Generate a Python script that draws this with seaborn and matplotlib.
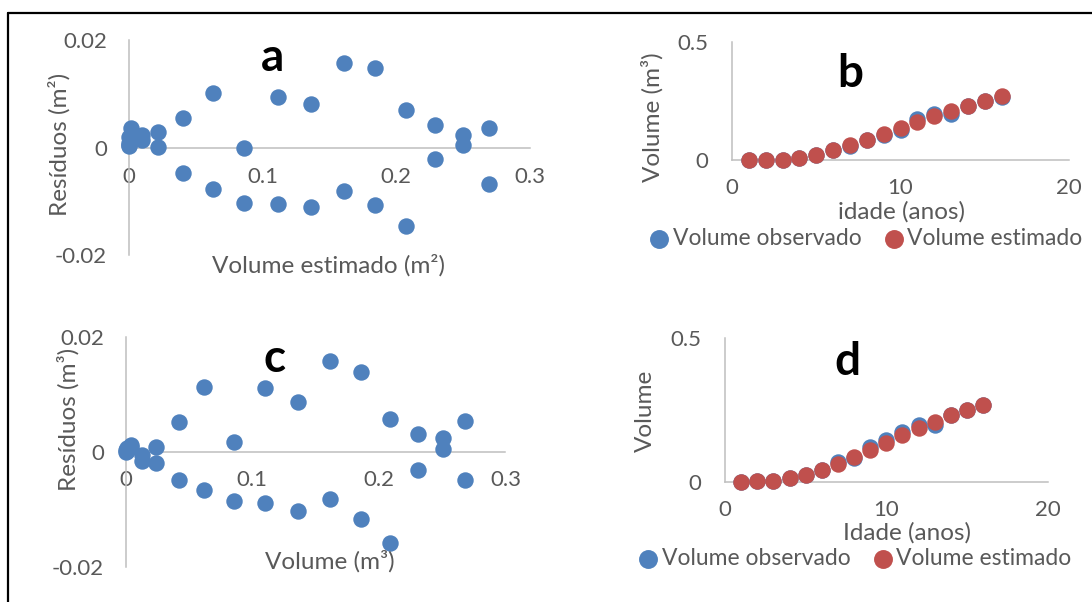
import matplotlib
matplotlib.use("Agg")
import matplotlib.pyplot as plt
from matplotlib.lines import Line2D
import seaborn as sns
import pandas as pd

# ---- data -------------------------------------------------------------
idade = list(range(1, 17))

# (a) residuals against estimated volume, two trees per age
vol_est_a = [0.0002, 0.0006, 0.0020, 0.0098, 0.0222, 0.041, 0.063, 0.0864,
             0.1115, 0.136, 0.161, 0.1845, 0.207, 0.229, 0.250, 0.269]
res_a_1 = [0.0005, 0.0019, 0.0036, 0.0024, 0.0028, 0.0054, 0.0102, 0.0000,
           0.0094, 0.0080, 0.0158, 0.0147, 0.0070, 0.0042, 0.0024, 0.0037]
res_a_2 = [0.0002, 0.0008, 0.0014, 0.0014, 0.0001, -0.0048, -0.0078, -0.0104,
           -0.0105, -0.0111, -0.0081, -0.0107, -0.0146, -0.0021, 0.0004, -0.0068]

# (b) observed and estimated volume by age
vol_obs_b = [0.0002, 0.0006, 0.0020, 0.0098, 0.0222, 0.041, 0.060, 0.0834,
             0.1055, 0.128, 0.173, 0.1955, 0.196, 0.229, 0.250, 0.267]
vol_est_b = [0.0002, 0.0006, 0.0020, 0.0098, 0.0222, 0.041, 0.063, 0.0864,
             0.1115, 0.136, 0.161, 0.1845, 0.207, 0.229, 0.250, 0.269]

# (c) residuals against volume, second model
vol_c = [0.0002, 0.0010, 0.0040, 0.0127, 0.0243, 0.0418, 0.0618, 0.0855,
         0.110, 0.1363, 0.1614, 0.186, 0.209, 0.231, 0.2506, 0.268]
res_c_1 = [0.0003, 0.0006, 0.0012, -0.0006, 0.0009, 0.0051, 0.0112, 0.0017,
           0.0110, 0.0087, 0.0157, 0.0138, 0.0057, 0.0031, 0.0024, 0.0054]
res_c_2 = [0.0000, 0.0002, 0.0008, -0.0017, -0.0020, -0.0050, -0.0067, -0.0086,
           -0.0089, -0.0103, -0.0082, -0.0117, -0.0159, -0.0031, 0.0004, -0.0050]

# (d) observed and estimated volume by age, second model
vol_obs_d = [0.0002, 0.0010, 0.0040, 0.0127, 0.0243, 0.0400, 0.0700, 0.0835,
             0.122, 0.1453, 0.1744, 0.199, 0.197, 0.231, 0.2506, 0.266]
vol_est_d = [0.0002, 0.0010, 0.0040, 0.0127, 0.0243, 0.0418, 0.0618, 0.0855,
             0.110, 0.1363, 0.1614, 0.186, 0.209, 0.231, 0.2506, 0.268]

res_ticks_x = [0, 0.1, 0.2, 0.3]
res_tick_labels_x = ["0", "0.1", "0.2", "0.3"]
res_ticks_y = [-0.02, 0, 0.02]
res_tick_labels_y = ["-0.02", "0", "0.02"]
age_ticks = [0, 10, 20]
age_tick_labels = ["0", "10", "20"]
vol_ticks = [0, 0.5]
vol_tick_labels = ["0", "0.5"]

# ---- style ------------------------------------------------------------
sns.set_style("white")
plt.rcParams["font.family"] = ["Lato", "DejaVu Sans"]

BLUE = "#4f81bd"
RED = "#c0504d"
TEXT = "#595959"
AXIS = "#bfbfbf"
FS_TICK = 16
FS = 17.5
FS_LEG = 16.5
W, H = 1092, 602

fig = plt.figure(figsize=(W / 100, H / 100), dpi=100)
fig.patch.set_facecolor("white")


def axes_px(x0, x1, ytop, ybot):
    return fig.add_axes([x0 / W, 1 - ybot / H, (x1 - x0) / W, (ybot - ytop) / H])


def style(ax, xlim, ylim, xt, xtl, yt, ytl, zero_bottom, xpad, ypad):
    ax.set_xlim(*xlim)
    ax.set_ylim(*ylim)
    ax.set_facecolor("none")
    for s in ("top", "right"):
        ax.spines[s].set_visible(False)
    for s in ("left", "bottom"):
        ax.spines[s].set_color(AXIS)
        ax.spines[s].set_linewidth(1.1)
    if zero_bottom:
        ax.spines["bottom"].set_position(("data", 0))
    ax.set_xticks(xt)
    ax.set_xticklabels(xtl)
    ax.set_yticks(yt)
    ax.set_yticklabels(ytl)
    ax.tick_params(axis="x", length=0, pad=xpad, labelsize=FS_TICK, labelcolor=TEXT)
    ax.tick_params(axis="y", length=0, pad=ypad, labelsize=FS_TICK, labelcolor=TEXT)
    ax.set_xlabel("")
    ax.set_ylabel("")
    ax.grid(False)


def px_text(x, y, s, **kw):
    fig.text(x / W, 1 - y / H, s, **kw)


MS = 140

# ---- (a) --------------------------------------------------------------
ax_a = axes_px(128.6, 530, 40, 255)
df_a = pd.DataFrame({"x": vol_est_a * 2, "r": res_a_1 + res_a_2})
sns.scatterplot(data=df_a, x="x", y="r", ax=ax_a, color=BLUE, s=MS,
                linewidth=0, clip_on=False, zorder=3)
style(ax_a, (0, 0.3), (-0.02, 0.02), res_ticks_x, res_tick_labels_x,
      res_ticks_y, res_tick_labels_y, True, 14, 15.5)

# ---- (b) --------------------------------------------------------------
ax_b = axes_px(732, 1069, 41.7, 160)
df_b = pd.DataFrame({"idade": idade, "obs": vol_obs_b, "est": vol_est_b})
sns.scatterplot(data=df_b, x="idade", y="obs", ax=ax_b, color=BLUE, s=MS,
                linewidth=0, clip_on=False, zorder=3, label="Volume observado")
sns.scatterplot(data=df_b, x="idade", y="est", ax=ax_b, color=RED, s=MS,
                linewidth=0, clip_on=False, zorder=4, label="Volume estimado")
style(ax_b, (0, 20), (0, 0.5), age_ticks, age_tick_labels,
      vol_ticks, vol_tick_labels, False, 13, 17)

# ---- (c) --------------------------------------------------------------
ax_c = axes_px(125.7, 505.4, 336.7, 566.7)
df_c = pd.DataFrame({"x": vol_c * 2, "r": res_c_1 + res_c_2})
sns.scatterplot(data=df_c, x="x", y="r", ax=ax_c, color=BLUE, s=MS,
                linewidth=0, clip_on=False, zorder=3)
style(ax_c, (0, 0.3), (-0.02, 0.02), res_ticks_x, res_tick_labels_x,
      res_ticks_y, res_tick_labels_y, True, 13.5, 15.5)

# ---- (d) --------------------------------------------------------------
ax_d = axes_px(725, 1047.5, 338.3, 481.7)
df_d = pd.DataFrame({"idade": idade, "obs": vol_obs_d, "est": vol_est_d})
sns.scatterplot(data=df_d, x="idade", y="obs", ax=ax_d, color=BLUE, s=MS,
                linewidth=0, clip_on=False, zorder=3, label="Volume observado")
sns.scatterplot(data=df_d, x="idade", y="est", ax=ax_d, color=RED, s=MS,
                linewidth=0, clip_on=False, zorder=4, label="Volume estimado")
style(ax_d, (0, 20), (0, 0.5), age_ticks, age_tick_labels,
      vol_ticks, vol_tick_labels, False, 13.5, 17)

# ---- legends ----------------------------------------------------------
for ax, (cx, cy) in ((ax_b, (865, 238.7)), (ax_d, (854, 558.3))):
    h, l = ax.get_legend_handles_labels()
    ax.legend(h, l, loc="center", ncol=2, frameon=False,
              bbox_to_anchor=(cx / W, 1 - cy / H), bbox_transform=fig.transFigure,
              fontsize=FS_LEG, labelcolor=TEXT, handletextpad=0.1, columnspacing=0.9,
              handlelength=1.0, markerscale=1.15, borderaxespad=0)

# ---- axis titles ------------------------------------------------------
tkw = dict(fontsize=FS, color=TEXT, ha="center", va="center")
px_text(59, 144, "Resíduos (m²)", rotation=90, **tkw)
px_text(329, 265, "Volume estimado (m²)", **tkw)
px_text(652, 116.7, "Volume (m³)", rotation=90, **tkw)
px_text(901, 211.7, "idade (anos)", **tkw)
px_text(68.6, 419, "Resíduos (m³)", rotation=90, **tkw)
px_text(330, 561.7, "Volume (m³)", **tkw)
px_text(645.7, 410.7, "Volume", rotation=90, **tkw)
px_text(907, 533.3, "Idade (anos)", **tkw)

# ---- panel letters ----------------------------------------------------
lkw = dict(fontsize=33, fontweight="bold", color="black", ha="center", va="baseline")
px_text(273, 70.7, "a", **lkw)
px_text(850, 87.3, "b", **lkw)
px_text(275, 371.7, "c", **lkw)
px_text(847.5, 375, "d", **lkw)

# ---- outer frame (top and left edges) -----------------------------------
fig.add_artist(Line2D([8 / W, 1], [1 - 13 / H, 1 - 13 / H], color="black",
                      lw=1.6, transform=fig.transFigure))
fig.add_artist(Line2D([8 / W, 8 / W], [1 - 13 / H, 0], color="black",
                      lw=1.6, transform=fig.transFigure))

fig.savefig("out.png", dpi=100, facecolor="white")
